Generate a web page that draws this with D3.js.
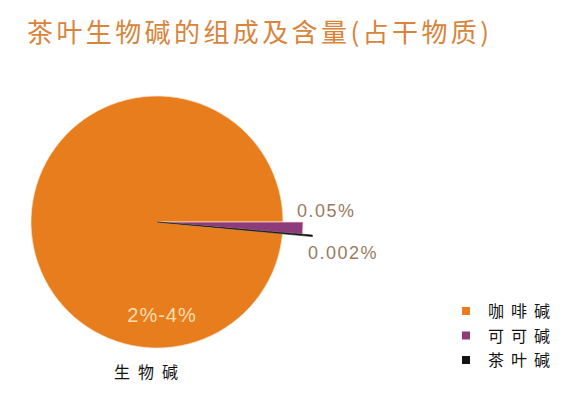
<!DOCTYPE html>
<html>
<head>
<meta charset="utf-8">
<script src="https://cdn.jsdelivr.net/npm/d3@7"></script>
<style>
  html, body { margin: 0; padding: 0; background: #fff; }
  svg { display: block; }
</style>
</head>
<body>
<svg id="chart" width="584" height="395"></svg>
<script>
// data
const title = "茶叶生物碱的组成及含量(占干物质)";
const categories = ["咖啡碱", "可可碱", "茶叶碱"];
const valueLabels = ["2%-4%", "0.05%", "0.002%"];
// share of the circle as drawn in the picture
const shares = [3.7, 0.05, 0.006];
const groupLabel = "生物碱";

const width = 584;
const height = 395;
const cx = 157;
const cy = 222;
const r = 126;

const color = d3.scaleOrdinal(categories, ["#E87D1E", "#8E3B7C", "#141414"]);
// small slices stick out of the pie
const outer = d3.scaleOrdinal(categories, [r, 146, 156]);

const svg = d3.select("#chart");

svg.append("text")
  .attr("x", 27)
  .attr("y", 42)
  .attr("fill", "#D8843A")
  .style("font-family", "'Noto Sans CJK SC', sans-serif")
  .style("font-size", "26px")
  .style("letter-spacing", "3.4px")
  .text(title);

const total = d3.sum(shares);
// the small slices start at 3 o'clock and go clockwise
const start = Math.PI / 2 - 2 * Math.PI * shares[0] / total;

const pie = d3.pie()
  .sort(null)
  .value(d => d.v)
  .startAngle(start)
  .endAngle(start + 2 * Math.PI);

const arcs = pie(categories.map((c, i) => ({ c, v: shares[i] })));

const g = svg.append("g").attr("transform", `translate(${cx},${cy})`);

g.selectAll("path.slice")
  .data(arcs)
  .join("path")
  .attr("class", "slice")
  .attr("d", d => d3.arc().innerRadius(0).outerRadius(outer(d.data.c))(d))
  .attr("fill", d => color(d.data.c))
  .attr("stroke", (d, i) => i == 2 ? color(d.data.c) : "#FBE3C8")
  .attr("stroke-width", (d, i) => i == 2 ? 0.6 : 0.7);

// value labels
const labelFont = "'Liberation Sans', Arial, sans-serif";
g.append("text")
  .attr("x", 5)
  .attr("y", 100)
  .attr("text-anchor", "middle")
  .attr("fill", "#F8DDB0")
  .style("font-family", labelFont)
  .style("font-size", "20px")
  .style("letter-spacing", "1px")
  .text(valueLabels[0]);

g.append("text")
  .attr("x", 140)
  .attr("y", -5)
  .attr("fill", "#9C7A60")
  .style("font-family", labelFont)
  .style("font-size", "18px")
  .style("letter-spacing", "1.5px")
  .text(valueLabels[1]);

g.append("text")
  .attr("x", 151)
  .attr("y", 37)
  .attr("fill", "#9C7A60")
  .style("font-family", labelFont)
  .style("font-size", "18px")
  .style("letter-spacing", "1.5px")
  .text(valueLabels[2]);

svg.append("text")
  .attr("x", 114)
  .attr("y", 378)
  .attr("fill", "#111")
  .style("font-family", "'Noto Sans CJK SC', sans-serif")
  .style("font-size", "16px")
  .style("letter-spacing", "8px")
  .text(groupLabel);

// legend
const legend = svg.append("g").attr("transform", "translate(462,311)");
const rows = legend.selectAll("g")
  .data(categories)
  .join("g")
  .attr("transform", (d, i) => `translate(0,${i * 24.5})`);

rows.append("rect")
  .attr("x", 0)
  .attr("y", -4)
  .attr("width", 8)
  .attr("height", 8)
  .attr("fill", d => color(d));

rows.append("text")
  .attr("x", 26)
  .attr("y", 6)
  .attr("fill", "#111")
  .style("font-family", "'Noto Sans CJK SC', sans-serif")
  .style("font-size", "16px")
  .style("letter-spacing", "7px")
  .text(d => d);
</script>
</body>
</html>
